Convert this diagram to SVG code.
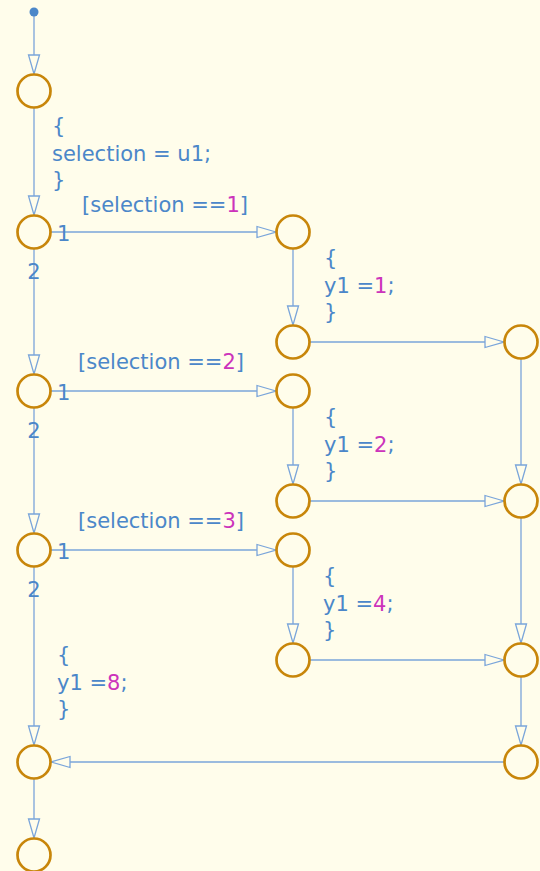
<svg xmlns="http://www.w3.org/2000/svg" width="540" height="871" viewBox="0 0 540 871">
<defs>
<style>
.n{fill:none;stroke:#c8860a;stroke-width:2.7}
.c{fill:none;stroke:#7aa5da;stroke-width:1.3;marker-end:url(#ah)}
.t{font-family:"DejaVu Sans",sans-serif;font-size:21px;fill:#4b87c9}
.m{fill:#cc33bb}
</style>
<marker id="ah" viewBox="-22 -8 23 16" refX="0" refY="0" markerWidth="23" markerHeight="16" markerUnits="userSpaceOnUse" orient="auto">
<path d="M0,0 L-19,-5.5 L-19,5.5 Z" fill="#fffdeb" stroke="#7aa5da" stroke-width="1.3"/>
</marker>
</defs>
<rect width="540" height="871" fill="#fffdeb"/>
<g id="connectors">
<path class="c" d="M34,12 V74"/>
<path class="c" d="M34,108 V215"/>
<path class="c" d="M51,232 H276"/>
<path class="c" d="M34,249 V374"/>
<path class="c" d="M293,249 V325"/>
<path class="c" d="M310,342 H504"/>
<path class="c" d="M51,391 H276"/>
<path class="c" d="M34,408 V533"/>
<path class="c" d="M293,408 V484"/>
<path class="c" d="M310,501 H504"/>
<path class="c" d="M521,359 V484"/>
<path class="c" d="M51,550 H276"/>
<path class="c" d="M34,567 V745"/>
<path class="c" d="M293,567 V643"/>
<path class="c" d="M310,660 H504"/>
<path class="c" d="M521,518 V643"/>
<path class="c" d="M521,677 V745"/>
<path class="c" d="M504,762 H51"/>
<path class="c" d="M34,779 V838"/>
</g>
<g id="labels">
<text class="t" x="52" y="133">{</text>
<text class="t" x="52" y="161">selection = u1;</text>
<text class="t" x="52" y="187">}</text>
<text class="t" x="82" y="212">[selection ==<tspan class="m">1</tspan>]</text>
<text class="t" x="57" y="241">1</text>
<text class="t" x="34" y="279" text-anchor="middle">2</text>
<text class="t" x="324" y="265">{</text>
<text class="t" x="324" y="293">y1 =<tspan class="m">1</tspan>;</text>
<text class="t" x="324" y="319">}</text>
<text class="t" x="78" y="369">[selection ==<tspan class="m">2</tspan>]</text>
<text class="t" x="57" y="400">1</text>
<text class="t" x="34" y="438" text-anchor="middle">2</text>
<text class="t" x="324" y="424">{</text>
<text class="t" x="324" y="452">y1 =<tspan class="m">2</tspan>;</text>
<text class="t" x="324" y="478">}</text>
<text class="t" x="78" y="528">[selection ==<tspan class="m">3</tspan>]</text>
<text class="t" x="57" y="559">1</text>
<text class="t" x="34" y="597" text-anchor="middle">2</text>
<text class="t" x="323" y="583">{</text>
<text class="t" x="323" y="611">y1 =<tspan class="m">4</tspan>;</text>
<text class="t" x="323" y="637">}</text>
<text class="t" x="57" y="662">{</text>
<text class="t" x="57" y="690">y1 =<tspan class="m">8</tspan>;</text>
<text class="t" x="57" y="716">}</text>
</g>
<g id="start"><circle cx="34" cy="12" r="4.5" fill="#4b87c9"/></g>
<g id="nA"><circle class="n" cx="34" cy="91" r="16.5"/></g>
<g id="nB"><circle class="n" cx="34" cy="232" r="16.5"/></g>
<g id="nC"><circle class="n" cx="34" cy="391" r="16.5"/></g>
<g id="nD"><circle class="n" cx="34" cy="550" r="16.5"/></g>
<g id="nE"><circle class="n" cx="34" cy="762" r="16.5"/></g>
<g id="nF"><circle class="n" cx="34" cy="855" r="16.5"/></g>
<g id="m1"><circle class="n" cx="293" cy="232" r="16.5"/></g>
<g id="m2"><circle class="n" cx="293" cy="342" r="16.5"/></g>
<g id="m3"><circle class="n" cx="293" cy="391" r="16.5"/></g>
<g id="m4"><circle class="n" cx="293" cy="501" r="16.5"/></g>
<g id="m5"><circle class="n" cx="293" cy="550" r="16.5"/></g>
<g id="m6"><circle class="n" cx="293" cy="660" r="16.5"/></g>
<g id="r1"><circle class="n" cx="521" cy="342" r="16.5"/></g>
<g id="r2"><circle class="n" cx="521" cy="501" r="16.5"/></g>
<g id="r3"><circle class="n" cx="521" cy="660" r="16.5"/></g>
<g id="r4"><circle class="n" cx="521" cy="762" r="16.5"/></g>
</svg>
